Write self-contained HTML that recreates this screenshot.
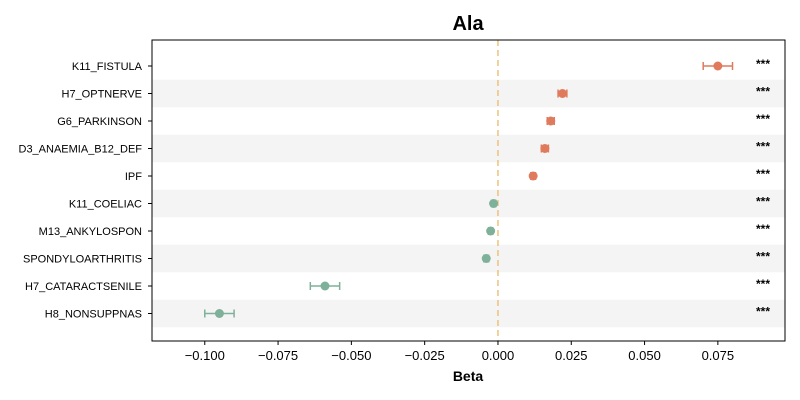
<!DOCTYPE html>
<html><head><meta charset="utf-8"><style>
html,body{margin:0;padding:0;background:#fff;}
svg{display:block;font-family:"Liberation Sans",sans-serif;}
</style></head><body>
<svg id="chart" width="800" height="400">
<text x="468" y="30" text-anchor="middle" font-size="20" font-weight="bold">Ala</text>
<g id="bands"></g>
<line id="zero-line" stroke="#f0c27b" stroke-width="1.5" stroke-dasharray="6,4"></line>
<g id="marks"></g>
<g id="yaxis"></g>
<g id="xaxis"></g>
<rect x="152" y="40" width="633" height="301" fill="none" stroke="#000" stroke-width="1"/>
<text x="468" y="381" text-anchor="middle" font-size="14" font-weight="bold">Beta</text>
</svg>
<script>
const categories=["K11_FISTULA","H7_OPTNERVE","G6_PARKINSON","D3_ANAEMIA_B12_DEF","IPF","K11_COELIAC","M13_ANKYLOSPON","SPONDYLOARTHRITIS","H7_CATARACTSENILE","H8_NONSUPPNAS"];
const betas=[0.075,0.022,0.018,0.016,0.012,-0.0015,-0.0025,-0.004,-0.059,-0.095];
const ciLow=[0.070,0.0205,0.0168,0.0148,0.0112,-0.0022,-0.0032,-0.0048,-0.064,-0.100];
const ciHigh=[0.080,0.0235,0.0192,0.0172,0.0128,-0.0008,-0.0018,-0.0032,-0.054,-0.090];
const sig=["***","***","***","***","***","***","***","***","***","***"];
const xTicks=[-0.100,-0.075,-0.050,-0.025,0.000,0.025,0.050,0.075];
const xTickLabels=["\u22120.100","\u22120.075","\u22120.050","\u22120.025","0.000","0.025","0.050","0.075"];
const NS="http://www.w3.org/2000/svg";
const X0=152,X1=785,Y0=40,Y1=341,dMin=-0.1180,dMax=0.0979;
const x=v=>X0+(v-dMin)/(dMax-dMin)*(X1-X0);
const rowH=27.5,firstY=66;
const y=i=>firstY+i*rowH;
function mk(tag,attrs,parent){const e=document.createElementNS(NS,tag);for(const k in attrs)e.setAttribute(k,attrs[k]);document.getElementById(parent).appendChild(e);return e;}
categories.forEach((c,i)=>{
 if(i%2===1){const b=mk("rect",{x:X0,y:y(i)-rowH/2,width:X1-X0,height:rowH,fill:"#f4f4f4"},"bands");
  
  }
 const col=betas[i]>=0?"#e07a5c":"#7fb09a";
 const l=mk("line",{x1:x(ciLow[i]),x2:x(ciHigh[i]),y1:y(i),y2:y(i),stroke:col,"stroke-width":1.5},"marks");
 
 
 [ciLow[i],ciHigh[i]].forEach(v=>{const cap=mk("line",{x1:x(v),x2:x(v),y1:y(i)-4,y2:y(i)+4,stroke:col,"stroke-width":1.5},"marks");
  
  });
 const p=mk("circle",{cx:x(betas[i]),cy:y(i),r:4.5,fill:col},"marks");
 
 
 const s=mk("text",{x:763,y:y(i)+2,"text-anchor":"middle","font-size":12,"font-weight":"bold"},"marks");
 s.textContent=sig[i];
 
 
 const t=mk("line",{x1:X0-4,x2:X0,y1:y(i),y2:y(i),stroke:"#000"},"yaxis");
 
 
 const lab=mk("text",{x:X0-10,y:y(i)+4,"text-anchor":"end","font-size":11},"yaxis");
 lab.textContent=c;
 
 
});
const z=document.getElementById("zero-line");
z.setAttribute("x1",x(0));z.setAttribute("x2",x(0));z.setAttribute("y1",Y0);z.setAttribute("y2",Y1);
xTicks.forEach((v,i)=>{
 const t=mk("line",{x1:x(v),x2:x(v),y1:Y1,y2:Y1+4,stroke:"#000"},"xaxis");
 
 
 const lab=mk("text",{x:x(v),y:Y1+19,"text-anchor":"middle","font-size":13},"xaxis");
 lab.textContent=xTickLabels[i];
 
 
});
</script>
</body></html>
